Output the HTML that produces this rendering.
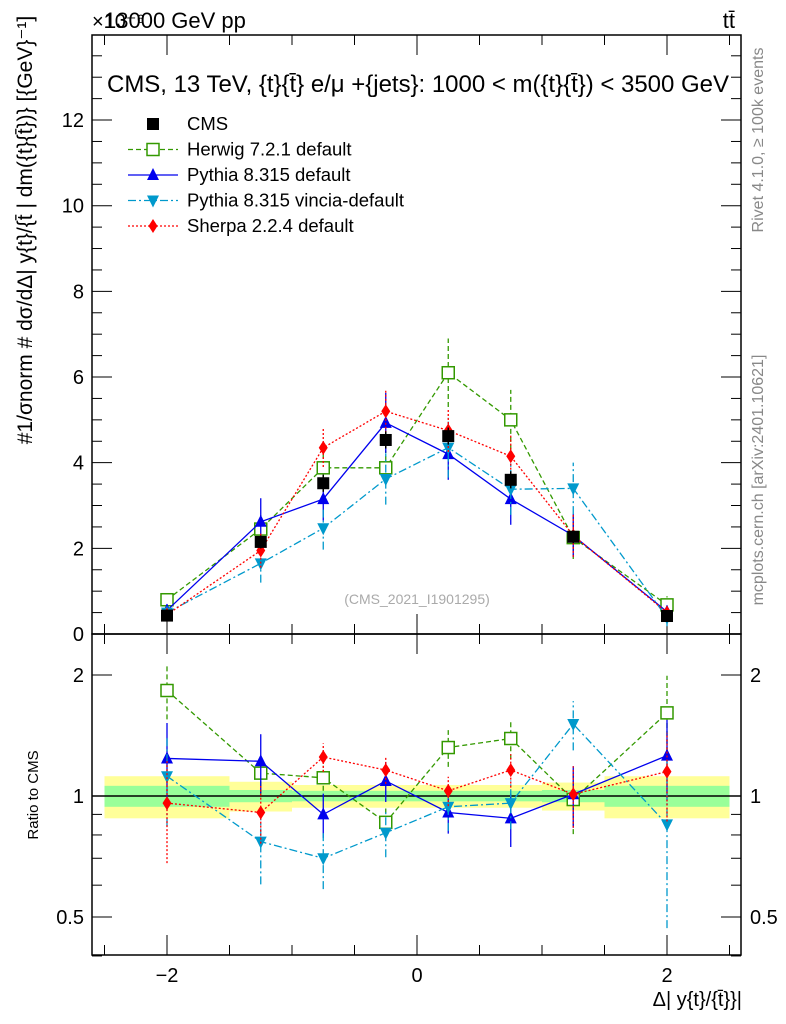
<!DOCTYPE html>
<html><head><meta charset="utf-8"><style>
body{margin:0;background:#fff}
svg{display:block;font-family:"Liberation Sans",sans-serif}
</style></head><body>
<svg id="c" width="786" height="1024" xmlns="http://www.w3.org/2000/svg">
<text x="92" y="28" font-size="20">×10⁻⁶</text>
<text x="104" y="28" font-size="22">13000 GeV pp</text>
<text x="735" y="28" font-size="22" text-anchor="end">tt̄</text>
<text x="418" y="92" font-size="24" text-anchor="middle" textLength="622">CMS, 13 TeV, {t}{t̄} e/μ +{jets}: 1000 &lt; m({t}{t̄}) &lt; 3500 GeV</text>
<text transform="translate(763,140) rotate(-90)" font-size="16" fill="#888" text-anchor="middle">Rivet 4.1.0, ≥ 100k events</text>
<text transform="translate(763,480) rotate(-90)" font-size="16" fill="#888" text-anchor="middle">mcplots.cern.ch [arXiv:2401.10621]</text>
<text x="417" y="604" font-size="14" fill="#aaa" text-anchor="middle">(CMS_2021_I1901295)</text>
<text transform="translate(32,230) rotate(-90)" font-size="21" text-anchor="middle">#1/σnorm # dσ/dΔ| y{t}/{t̄ | dm({t}{t̄})} [{GeV}⁻¹]</text>
<text transform="translate(38,795) rotate(-90)" font-size="15" text-anchor="middle">Ratio to CMS</text>
<text x="742" y="1006" font-size="20" text-anchor="end">Δ| y{t}/{t̄}}|</text>
<g id="g"></g>
</svg>
<script>
const xc=[-2,-1.25,-0.75,-0.25,0.25,0.75,1.25,2];
const edges=[-2.5,-1.5,-1,-0.5,0,0.5,1,1.5,2.5];
const cmsV=[0.43,2.15,3.52,4.53,4.62,3.6,2.27,0.42];
const cmsE=[0.05,0.15,0.2,0.2,0.2,0.2,0.15,0.05];
const herV=[0.8,2.45,3.88,3.88,6.1,5.0,2.25,0.68];
const herE=[0.15,0.35,0.35,0.4,0.8,0.7,0.5,0.2];
const herR=[1.83,1.14,1.11,0.86,1.32,1.39,0.98,1.61];
const pyV=[0.55,2.62,3.15,4.93,4.2,3.15,2.3,0.52];
const pyE=[0.15,0.55,0.5,0.7,0.6,0.6,0.5,0.15];
const pyR=[1.24,1.22,0.90,1.09,0.91,0.88,1.01,1.26];
const viV=[0.5,1.65,2.47,3.62,4.35,3.38,3.4,0.38];
const viE=[0.15,0.45,0.5,0.6,0.7,0.6,0.6,0.2];
const viR=[1.12,0.77,0.70,0.81,0.94,0.96,1.51,0.85];
const shV=[0.45,1.95,4.35,5.2,4.75,4.15,2.3,0.5];
const shE=[0.15,0.4,0.45,0.5,0.5,0.5,0.5,0.15];
const shR=[0.96,0.91,1.25,1.16,1.03,1.16,1.01,1.15];
const bandTot=[0.12,0.085,0.065,0.065,0.065,0.065,0.08,0.12];
const bandStat=[0.06,0.035,0.03,0.03,0.03,0.03,0.035,0.06];
const yTicks=[0,2,4,6,8,10,12];
const rTicks=[0.5,1,2];
const xTicks=[-2,0,2];

const X=v=>417+v*125;
const Y=v=>634-v*42.83;
const R=v=>796-Math.log2(v)*121;
const g=document.getElementById('g');
const NS='http://www.w3.org/2000/svg';
function el(t,a,p){const e=document.createElementNS(NS,t);for(const k in a)e.setAttribute(k,a[k]);(p||g).appendChild(e);return e;}

for(let i=0;i<8;i++){
 let r=el('rect',{x:X(edges[i]),y:R(1+bandTot[i]),width:X(edges[i+1])-X(edges[i]),height:R(1-bandTot[i])-R(1+bandTot[i]),fill:'#ffff99'});
 
 
 let s=el('rect',{x:X(edges[i]),y:R(1+bandStat[i]),width:X(edges[i+1])-X(edges[i]),height:R(1-bandStat[i])-R(1+bandStat[i]),fill:'#99ff99'});
 
 
}
el('line',{x1:92,x2:741,y1:R(1),y2:R(1),stroke:'#000','stroke-width':1.5});

el('rect',{x:92,y:35,width:649,height:599,fill:'none',stroke:'#000','stroke-width':1.5});
el('rect',{x:92,y:634,width:649,height:321,fill:'none',stroke:'#000','stroke-width':1.5});

for(let v=0;v<=13.5;v+=0.5){const maj=v%2===0;const L=maj?20:10;
 el('line',{x1:92,x2:92+L,y1:Y(v),y2:Y(v),stroke:'#000'});
 el('line',{x1:741,x2:741-L,y1:Y(v),y2:Y(v),stroke:'#000'});}
yTicks.forEach(v=>{const t=el('text',{x:84,y:Y(v)+7,'font-size':20,'text-anchor':'end'});t.textContent=v;
 
 });
[0.4,0.5,0.6,0.7,0.8,0.9,1,2].forEach(v=>{const maj=rTicks.includes(v);const L=maj?20:10;
 el('line',{x1:92,x2:92+L,y1:R(v),y2:R(v),stroke:'#000'});
 el('line',{x1:741,x2:741-L,y1:R(v),y2:R(v),stroke:'#000'});});
rTicks.forEach(v=>{[[84,'end'],[750,'start']].forEach(([x,a])=>{const t=el('text',{x:x,y:R(v)+7,'font-size':20,'text-anchor':a});t.textContent=v;
 
 });});
for(let v=-2.5;v<=2.5;v+=0.5){const maj=Math.abs(v%1)<1e-9&&v%2===0;const L=maj?20:10;
 [[35,1],[634,1],[634,-1],[955,-1]].forEach(([y,d])=>el('line',{x1:X(v),x2:X(v),y1:y,y2:y+d*L,stroke:'#000'}));}
xTicks.forEach(v=>{const t=el('text',{x:X(v),y:982,'font-size':20,'text-anchor':'middle'});t.textContent=v===0?'0':(v<0?'−2':'2');
 
 });

function marker(type,x,y,c,name){
 let m;
 if(type==='sq')m=el('rect',{x:x-6,y:y-6,width:12,height:12,fill:'#000'});
 else if(type==='osq')m=el('rect',{x:x-6,y:y-6,width:12,height:12,fill:'#fff',stroke:c,'stroke-width':1.5});
 else if(type==='up')m=el('polygon',{points:`${x},${y-7} ${x-6},${y+5} ${x+6},${y+5}`,fill:c});
 else if(type==='dn')m=el('polygon',{points:`${x},${y+7} ${x-6},${y-5} ${x+6},${y-5}`,fill:c});
 else m=el('polygon',{points:`${x},${y-7} ${x-4.5},${y} ${x},${y+7} ${x+4.5},${y}`,fill:c});
 
 
}
const series=[
 {v:herV,e:herE,r:herR,c:'#339900',d:'5,3',m:'osq',n:'herwig'},
 {v:pyV,e:pyE,r:pyR,c:'#0000ee',d:'',m:'up',n:'pythia'},
 {v:viV,e:viE,r:viR,c:'#0099cc',d:'8,3,2,3',m:'dn',n:'vincia'},
 {v:shV,e:shE,r:shR,c:'#ff0000',d:'2,2',m:'dia',n:'sherpa'}];
series.forEach(s=>{
 const pts=xc.map((x,i)=>X(x)+','+Y(s.v[i])).join(' ');
 const l=el('polyline',{points:pts,fill:'none',stroke:s.c,'stroke-width':1.3,'stroke-dasharray':s.d});
 
 
 const rp=xc.map((x,i)=>X(x)+','+R(s.r[i])).join(' ');
 const rl=el('polyline',{points:rp,fill:'none',stroke:s.c,'stroke-width':1.3,'stroke-dasharray':s.d});
 
 
 xc.forEach((x,i)=>{
  el('line',{x1:X(x),x2:X(x),y1:Y(s.v[i]-s.e[i]),y2:Y(s.v[i]+s.e[i]),stroke:s.c,'stroke-width':1.3,'stroke-dasharray':s.d});
  const r=s.r[i],re=s.e[i]/cmsV[i]*0.8;
  el('line',{x1:X(x),x2:X(x),y1:R(Math.max(r-re,0.41)),y2:R(Math.min(r+re,2.5)),stroke:s.c,'stroke-width':1.3,'stroke-dasharray':s.d});
  marker(s.m,X(x),Y(s.v[i]),s.c,s.n+'-point');
  marker(s.m,X(x),R(r),s.c,s.n+'-ratio-point');
 });
});
xc.forEach((x,i)=>{
 el('line',{x1:X(x),x2:X(x),y1:Y(cmsV[i]-cmsE[i]),y2:Y(cmsV[i]+cmsE[i]),stroke:'#000','stroke-width':1.5});
 marker('sq',X(x),Y(cmsV[i]),'#000','cms-point');
});
const leg=[['CMS','sq','#000',''],['Herwig 7.2.1 default','osq','#339900','5,3'],['Pythia 8.315 default','up','#0000ee',''],['Pythia 8.315 vincia-default','dn','#0099cc','8,3,2,3'],['Sherpa 2.2.4 default','dia','#ff0000','2,2']];
leg.forEach((L,i)=>{const y=124+i*25.5;
 if(i>0){const ln=el('line',{x1:128,x2:178,y1:y,y2:y,stroke:L[2],'stroke-width':1.3,'stroke-dasharray':L[3]});
  
  }
 marker(L[1],153,y,L[2],'legend-marker');
 const t=el('text',{x:187,y:y+6,'font-size':18.5});t.textContent=L[0];
 
 
});
</script>
</body></html>
